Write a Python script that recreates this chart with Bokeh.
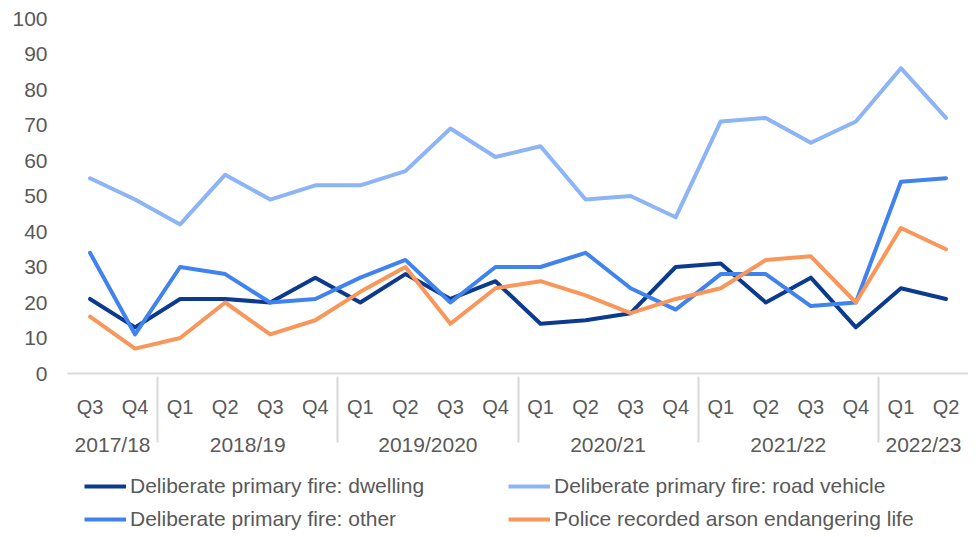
from bokeh.plotting import figure
from bokeh.layouts import column
from bokeh.models import (FactorRange, Range1d, FixedTicker, Legend, LegendItem,
                          ColumnDataSource)
from bokeh.embed import file_html
from bokeh.resources import INLINE

years = ["2017/18", "2017/18",
         "2018/19", "2018/19", "2018/19", "2018/19",
         "2019/2020", "2019/2020", "2019/2020", "2019/2020",
         "2020/21", "2020/21", "2020/21", "2020/21",
         "2021/22", "2021/22", "2021/22", "2021/22",
         "2022/23", "2022/23"]
quarters = ["Q3", "Q4",
            "Q1", "Q2", "Q3", "Q4",
            "Q1", "Q2", "Q3", "Q4",
            "Q1", "Q2", "Q3", "Q4",
            "Q1", "Q2", "Q3", "Q4",
            "Q1", "Q2"]

dwelling = [21, 13, 21, 21, 20, 27, 20, 28, 21, 26, 14, 15, 17, 30, 31, 20, 27, 13, 24, 21]
road_vehicle = [55, 49, 42, 56, 49, 53, 53, 57, 69, 61, 64, 49, 50, 44, 71, 72, 65, 71, 86, 72]
other = [34, 11, 30, 28, 20, 21, 27, 32, 20, 30, 30, 34, 24, 18, 28, 28, 19, 20, 54, 55]
arson = [16, 7, 10, 20, 11, 15, 23, 30, 14, 24, 26, 22, 17, 21, 24, 32, 33, 20, 41, 35]

y_ticks = list(range(0, 101, 10))

series = [
    ("Deliberate primary fire: dwelling", dwelling, "#0b3a8f"),
    ("Deliberate primary fire: road vehicle", road_vehicle, "#8cb4f6"),
    ("Deliberate primary fire: other", other, "#4083ee"),
    ("Police recorded arson endangering life", arson, "#f99659"),
]

FONT = "Liberation Sans"
TXT = "#595959"
RULE = "#d9d9d9"

factors = list(zip(years, quarters))
x_range = FactorRange(*factors, range_padding=0, factor_padding=0,
                      group_padding=0, subgroup_padding=0)

p = figure(width=968, height=460, x_range=x_range, y_range=Range1d(0, 100),
           output_backend="svg", toolbar_location=None,
           min_border_left=67, min_border_right=0, min_border_top=18,
           min_border_bottom=87)
p.outline_line_color = None
p.xgrid.grid_line_color = None
p.ygrid.grid_line_color = None

for name, vals, col in series:
    src = ColumnDataSource(dict(x=factors, y=vals))
    p.line("x", "y", source=src, line_color=col, line_width=4,
           line_join="round", line_cap="round")

# y axis
ya = p.yaxis[0]
ya.ticker = FixedTicker(ticks=y_ticks)
ya.axis_line_color = None
ya.major_tick_line_color = None
ya.minor_tick_line_color = None
ya.major_tick_out = 0
ya.major_label_text_font = FONT
ya.major_label_text_font_size = "21px"
ya.major_label_text_color = TXT
ya.major_label_standoff = 20

# x axis
xa = p.xaxis[0]
xa.axis_line_color = RULE
xa.axis_line_width = 2
xa.major_tick_line_color = None
xa.minor_tick_line_color = None
xa.major_tick_out = 10
xa.major_label_text_font = FONT
xa.major_label_text_font_size = "20px"
xa.major_label_text_color = TXT
xa.major_label_standoff = 12
xa.group_text_font = FONT
xa.group_text_font_size = "21px"
xa.group_text_font_style = "normal"
xa.group_text_color = TXT
xa.separator_line_color = RULE
xa.separator_line_width = 2

# legend figure
pl = figure(width=968, height=72, x_range=Range1d(0, 1), y_range=Range1d(0, 1),
            output_backend="svg", toolbar_location=None,
            min_border=0, min_border_left=0, min_border_right=0,
            min_border_top=0, min_border_bottom=0)
pl.axis.visible = False
pl.grid.visible = False
pl.outline_line_color = None

nan = float("nan")
leg_renderers = {}
for name, vals, col in series:
    leg_renderers[name] = pl.line(x=[nan, nan], y=[nan, nan], line_color=col, line_width=4)

order = [series[0][0], series[2][0], series[1][0], series[3][0]]
legend = Legend(items=[LegendItem(label=n, renderers=[leg_renderers[n]]) for n in order],
                location=(17, 1), orientation="vertical", ncols=2,
                label_text_font=FONT, label_text_font_size="21px",
                label_text_color=TXT, glyph_width=42, glyph_height=20,
                label_height=20, label_width=369, label_standoff=4, spacing=9,
                padding=0, margin=0, border_line_alpha=0,
                background_fill_alpha=0)
pl.add_layout(legend, "center")

layout = column(p, pl, spacing=0)
open("out.html", "w").write(file_html(layout, INLINE))
